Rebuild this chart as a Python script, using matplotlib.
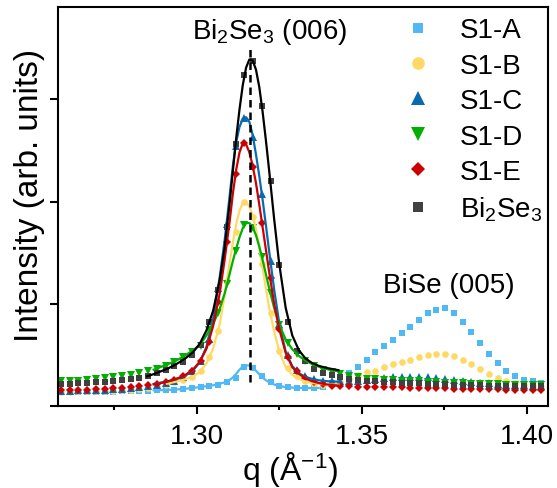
import numpy as np
import matplotlib
matplotlib.use("Agg")
import matplotlib.pyplot as plt
from matplotlib.ticker import MultipleLocator, FormatStrFormatter

plt.rcParams['font.family'] = ['Liberation Sans', 'DejaVu Sans']
plt.rcParams['mathtext.fontset'] = 'custom'
plt.rcParams['mathtext.rm'] = 'Liberation Sans'
plt.rcParams['mathtext.it'] = 'Liberation Sans'
plt.rcParams['mathtext.default'] = 'regular'

nan = np.nan

# measured points (q in 1/A, intensity in arb. units)
q = [1.2589, 1.2615, 1.2642, 1.2668, 1.2695, 1.2721, 1.2748, 1.2774, 1.2801, 1.2827,
     1.2854, 1.2880, 1.2907, 1.2933, 1.2959, 1.2986, 1.3012, 1.3039, 1.3065, 1.3092,
     1.3118, 1.3145, 1.3171, 1.3198, 1.3224, 1.3251, 1.3277, 1.3303, 1.3330, 1.3356,
     1.3383, 1.3409, 1.3436, 1.3462, 1.3489, 1.3515, 1.3542, 1.3568, 1.3595, 1.3621,
     1.3647, 1.3674, 1.3700, 1.3727, 1.3753, 1.3780, 1.3806, 1.3833, 1.3859, 1.3886,
     1.3912, 1.3939, 1.3965, 1.3991, 1.4018, 1.4044]

s1a = [0.137, 0.137, 0.138, 0.138, 0.139, 0.140, 0.141, 0.142, 0.144, 0.146,
       0.150, 0.153, 0.156, 0.160, 0.166, 0.175, 0.184, 0.196, 0.207, 0.233,
       0.275, 0.385, 0.375, 0.290, 0.238, 0.199, 0.183, 0.176, 0.175, 0.180,
       0.190, 0.222, 0.270, 0.320, 0.378, 0.450, 0.528, 0.586, 0.650, 0.712,
       0.770, 0.837, 0.907, 0.942, 0.956, 0.910, 0.825, 0.721, 0.613, 0.509,
       0.418, 0.340, 0.290, 0.257, 0.242, 0.225]

s1b = [0.140, 0.141, 0.142, 0.143, 0.145, 0.147, 0.150, 0.153, 0.158, 0.165,
       0.175, 0.190, 0.210, 0.232, 0.255, 0.285, 0.340, 0.480, 0.730, 1.220,
       1.700, 1.995, 1.850, 1.390, 0.910, 0.540, 0.375, 0.290, 0.245, 0.220,
       0.210, 0.215, 0.235, 0.264, 0.303, 0.330, 0.347, 0.378, 0.408, 0.430,
       0.453, 0.476, 0.499, 0.512, 0.509, 0.486, 0.453, 0.408, 0.362, 0.316,
       0.274, 0.245, 0.222, 0.205, 0.199, 0.190]

s1c = [0.150, 0.151, 0.153, 0.155, 0.158, 0.161, 0.165, 0.170, 0.176, 0.184,
       0.193, 0.205, 0.222, 0.245, 0.280, 0.340, 0.440, 0.660, 1.150, 1.780,
       2.540, 2.820, 2.630, 2.070, 1.420, 0.800, 0.500, 0.350, 0.290, 0.260,
       0.245, 0.240, 0.240, 0.242, 0.245, 0.250, 0.260, 0.270, 0.280, 0.285,
       0.285, 0.285, 0.280, 0.275, 0.265, 0.255, 0.245, 0.235, 0.228, 0.222,
       0.215, 0.210, 0.205, 0.202, 0.200, 0.198]

s1d = [0.242, 0.245, 0.248, 0.254, 0.261, 0.271, 0.284, 0.294, 0.306, 0.320,
       0.342, 0.362, 0.396, 0.428, 0.475, 0.525, 0.590, 0.740, 0.910, 1.190,
       1.520, 1.770, 1.740, 1.460, 1.110, 0.790, 0.620, 0.510, 0.445, 0.390,
       0.355, 0.330, 0.310, 0.292, 0.280, 0.268, 0.262, 0.258, 0.252, 0.248,
       0.243, 0.240, 0.236, 0.232, 0.229, 0.225, 0.222, 0.219, 0.216, 0.214,
       0.212, 0.210, 0.208, 0.206, 0.205, 0.204]

s1e = [0.154, 0.154, 0.157, 0.160, 0.163, 0.166, 0.173, 0.179, 0.186, 0.196,
       0.205, 0.217, 0.233, 0.258, 0.290, 0.345, 0.445, 0.625, 1.020, 1.600,
       2.270, 2.570, 2.340, 1.790, 1.250, 0.750, 0.480, 0.340, 0.270, 0.235,
       0.215, 0.200, 0.195, 0.192, 0.190, 0.189, 0.188, 0.186, 0.184, 0.182,
       0.180, 0.178, 0.176, 0.174, 0.172, 0.170, 0.168, 0.166, 0.165, 0.163,
       0.162, 0.160, 0.159, 0.158, 0.157, 0.156]

bi2se3 = [0.215, 0.220, 0.223, 0.226, 0.232, 0.238, 0.245, 0.252, 0.262, 0.275,
          0.296, 0.325, 0.355, 0.390, 0.435, 0.500, 0.600, 0.820, 1.130, 1.750,
          2.560, 3.240, 3.370, 2.930, 2.200, 1.380, 0.820, 0.540, 0.443, 0.362,
          0.323, 0.300, 0.280, 0.264, 0.254, 0.245, 0.240, 0.235, 0.232, 0.228,
          0.225, 0.222, 0.218, 0.215, 0.212, 0.209, 0.206, 0.204, 0.202, 0.200,
          0.198, 0.196, 0.195, 0.193, 0.192, 0.191]

# fitted curves around the (006) peak
fit_q = [1.2850, 1.2870, 1.2890, 1.2910, 1.2930, 1.2950, 1.2970, 1.2990, 1.3010, 1.3030,
         1.3050, 1.3070, 1.3085, 1.3100, 1.3110, 1.3120, 1.3130, 1.3140, 1.3150, 1.3160,
         1.3170, 1.3180, 1.3190, 1.3200, 1.3210, 1.3220, 1.3235, 1.3250, 1.3270, 1.3290,
         1.3310, 1.3330, 1.3350, 1.3370, 1.3390, 1.3410, 1.3430]

fit_s1a = [nan, 0.154, 0.155, 0.157, 0.160, 0.164, 0.170, 0.177, 0.185, 0.194,
           0.203, 0.216, 0.232, 0.255, 0.280, 0.315, 0.355, 0.385, 0.398, 0.395,
           0.375, 0.345, 0.310, 0.278, 0.252, 0.232, 0.210, 0.196, 0.185, 0.180,
           0.177, 0.176, 0.176, 0.177, nan, nan, nan]

fit_s1b = [nan, nan, nan, 0.218, 0.232, 0.248, 0.265, 0.290, 0.335, 0.415,
           0.560, 0.800, 1.080, 1.400, 1.600, 1.780, 1.910, 1.985, 1.995, 1.950,
           1.860, 1.730, 1.550, 1.350, 1.150, 0.960, 0.730, 0.540, 0.380, 0.305,
           0.265, 0.240, 0.225, 0.217, 0.212, 0.210, 0.210]

fit_s1c = [nan, 0.215, 0.228, 0.240, 0.255, 0.275, 0.305, 0.350, 0.430, 0.580,
           0.850, 1.260, 1.620, 2.050, 2.350, 2.580, 2.730, 2.810, 2.825, 2.780,
           2.650, 2.460, 2.250, 2.020, 1.770, 1.510, 1.140, 0.820, 0.530, 0.390,
           0.320, 0.285, 0.265, 0.252, 0.244, 0.240, 0.238]

fit_s1d = [nan, 0.355, 0.380, 0.405, 0.432, 0.465, 0.505, 0.545, 0.600, 0.690,
           0.800, 0.950, 1.100, 1.290, 1.420, 1.540, 1.650, 1.740, 1.790, 1.790,
           1.750, 1.670, 1.560, 1.430, 1.290, 1.150, 0.960, 0.800, 0.650, 0.555,
           0.490, 0.445, 0.410, 0.385, 0.365, 0.350, 0.340]

fit_s1e = [nan, 0.212, 0.223, 0.237, 0.257, 0.280, 0.312, 0.360, 0.435, 0.560,
           0.780, 1.100, 1.430, 1.800, 2.080, 2.310, 2.480, 2.570, 2.560, 2.480,
           2.350, 2.180, 1.970, 1.750, 1.530, 1.310, 1.000, 0.760, 0.520, 0.380,
           0.315, 0.270, 0.242, 0.225, 0.213, 0.205, 0.200]

fit_bi2se3 = [0.290, 0.312, 0.337, 0.363, 0.394, 0.432, 0.476, 0.530, 0.610, 0.740,
              0.930, 1.230, 1.550, 1.980, 2.300, 2.620, 2.900, 3.140, 3.310, 3.390,
              3.380, 3.290, 3.120, 2.880, 2.600, 2.300, 1.830, 1.400, 0.960, 0.690,
              0.545, 0.465, 0.420, 0.393, 0.375, 0.362, 0.350]

labels = ['S1-A', 'S1-B', 'S1-C', 'S1-D', 'S1-E', 'Bi$_2$Se$_3$']
data = [s1a, s1b, s1c, s1d, s1e, bi2se3]
fits = [fit_s1a, fit_s1b, fit_s1c, fit_s1d, fit_s1e, fit_bi2se3]
marker_colors = ['#50b9f5', '#ffd966', '#0a6ab0', '#00b000', '#cc0000', '#404040']
line_colors = ['#50b9f5', '#ffd966', '#0a6ab0', '#00b000', '#cc0000', 'black']
markers = ['s', 'o', '^', 'v', 'D', 's']
sizes = [4.0, 4.8, 5.2, 5.2, 3.8, 4.0]

peak_006 = 1.3162

fig = plt.figure(figsize=(5.57, 4.89), dpi=100)
ax = fig.add_axes([0.1047, 0.1677, 0.8792, 0.8153])

handles = []
for vals, c, m, s in zip(data, marker_colors, markers, sizes):
    h, = ax.plot(q, vals, linestyle='none', marker=m, color=c, ms=s, mew=0)
    handles.append(h)

for f, c in zip(fits, line_colors):
    ax.plot(fit_q, f, color=c, lw=1.6)

ax.plot([peak_006, peak_006], [0.235, 3.53], color='black', lw=1.8,
        linestyle=(0, (3, 2)))

ax.text(1.3221, 3.60, 'Bi$_2$Se$_3$ (006)', ha='center', va='baseline', fontsize=20)
ax.text(1.3765, 1.115, 'BiSe (005)', ha='center', va='baseline', fontsize=20)

ax.set_xlim(1.2581, 1.4065)
ax.set_ylim(0, 3.90)
ax.xaxis.set_major_locator(MultipleLocator(0.05))
ax.xaxis.set_minor_locator(MultipleLocator(0.025))
ax.xaxis.set_major_formatter(FormatStrFormatter('%.2f'))
ax.set_yticks([0, 1, 2, 3])
ax.set_yticklabels([])
ax.tick_params(axis='both', which='major', direction='out', length=5.5, width=1.5,
               labelsize=20, pad=6.5)
ax.tick_params(axis='x', which='minor', direction='out', length=3, width=1.5)
for sp in ax.spines.values():
    sp.set_linewidth(1.5)

ax.set_xlabel('q (Å$^{-1}$)', fontsize=23)
ax.set_ylabel('Intensity (arb. units)', fontsize=24)
ax.xaxis.set_label_coords(0.473, -0.108)
ax.yaxis.set_label_coords(-0.028, 0.530)

ax.legend(handles, labels, loc='upper left', bbox_to_anchor=(0.706, 0.975),
          frameon=False, fontsize=20, markerscale=1.9, handlelength=1.0,
          handletextpad=1.0, labelspacing=0.34, borderpad=0, borderaxespad=0)

fig.savefig('out.png', dpi=100)
